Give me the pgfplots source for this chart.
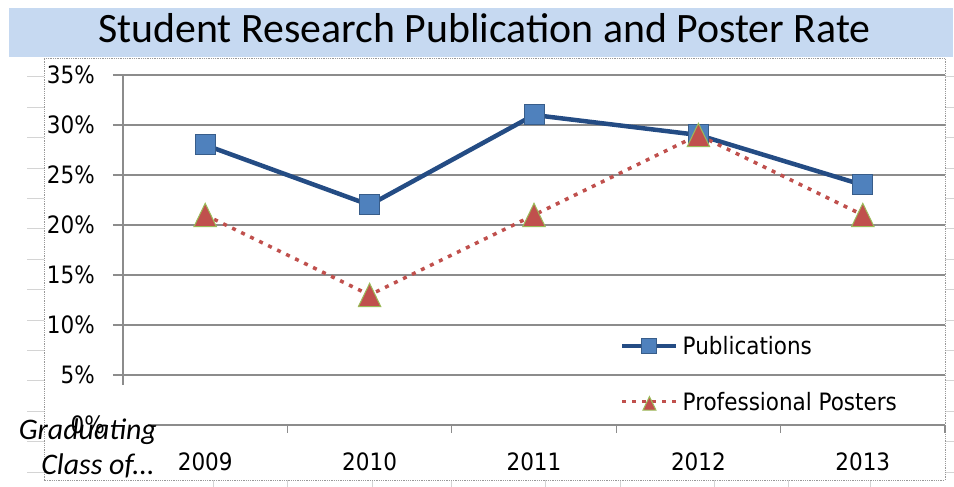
\documentclass[border=0pt]{standalone}
\usepackage{pgfplots}
\pgfplotsset{compat=1.18}
\usepackage{fontspec}
\setmainfont{DejaVu Sans Condensed}
\newfontfamily\titlefont{Carlito}
\definecolor{publine}{HTML}{244C84}
\definecolor{pubfill}{HTML}{4F81BD}
\definecolor{pubedge}{HTML}{385D8A}
\definecolor{posred}{HTML}{C0504D}
\definecolor{posedge}{HTML}{9BBB59}
\definecolor{titlebg}{HTML}{C6D9F1}
\definecolor{gridc}{HTML}{8C8C8C}
\definecolor{cellc}{HTML}{D4D4D4}
\begin{document}
\begin{tikzpicture}[x=1bp,y=1bp]
\useasboundingbox (0,0) rectangle (954,487);
% spreadsheet cell borders outside the chart
\foreach \k in {0,...,13} {\draw[cellc, line width=1bp] (27,{487-(77+30.4*\k)}) -- (44,{487-(77+30.4*\k)});}
\foreach \k in {0,...,13} {\draw[cellc, line width=1bp] (945,{487-(77+30.4*\k)}) -- (954,{487-(77+30.4*\k)});}
\foreach \x in {213,287,372,451,545,620,714,788,870} {\draw[cellc, line width=1bp] (\x,0) -- (\x,7);}
% title band
\fill[titlebg] (9,430) rectangle (953,479);
\node[anchor=base, inner sep=0pt, font=\titlefont\fontsize{42}{44}\selectfont] at (484.5,444) {Student Research Publication and Poster Rate};
% chart frame
\draw[gray!80, densely dotted, line width=0.8bp] (44,7) rectangle (945,429);
\begin{axis}[
  at={(123bp,62bp)}, anchor=south west,
  scale only axis, width=822bp, height=350bp,
  xmin=-0.5, xmax=4.5, ymin=0, ymax=35,
  axis line style={draw=none},
  xtick={0,1,2,3,4}, xticklabels={2009,2010,2011,2012,2013},
  minor xtick={0.5,1.5,2.5,3.5,4.5},
  x tick style={draw=none},
  xtick pos=bottom, ytick pos=left,
  tick align=outside,
  minor x tick style={draw=gridc, line width=1.3bp},
  minor tick length=8bp,
  ytick={5,10,...,35},
  extra y ticks={0}, extra y tick style={grid=none, major tick length=0pt},
  y tick style={draw=gridc, line width=1.3bp},
  major tick length=10bp,
  ymajorgrids, grid style={draw=gridc, line width=1.3bp},
  /pgf/number format/assume math mode=true,
  yticklabel={\pgfmathprintnumber{\tick}\%},
  tick label style={font=\fontsize{24}{26}\selectfont},
  yticklabel style={anchor=east, inner sep=0pt, xshift=-18bp},
  xticklabel style={anchor=base, inner sep=0pt, yshift=-36bp},
  clip=false,
  legend style={draw=none, fill=none, at={(rel axis cs:0.601,0.26)}, anchor=north west,
    font=\fontsize{24}{26}\selectfont, row sep=36bp, column sep=4bp,
    nodes={inner sep=0pt}},
  legend cell align=left,
  legend image code/.code={\draw[#1, mark size=7.5bp, mark repeat=2, mark phase=2] plot coordinates {(0bp,0bp)(27bp,0bp)(54bp,0bp)};},
]
\draw[gridc, line width=1.3bp] (axis cs:-0.5,4) -- (axis cs:-0.5,35);
\draw[gridc, line width=1.3bp] (axis cs:-0.348,0) -- (axis cs:4.5,0);
\addplot[publine, line width=4.5bp, mark=square*, mark size=10bp,
  mark options={fill=pubfill, draw=pubedge, line width=1bp, solid}]
  coordinates {(0,28) (1,22) (2,31) (3,29) (4,24)};
\addlegendentry{Publications}
\addplot[posred, line width=3.5bp, dash pattern=on 4bp off 6bp, mark=triangle*, mark size=13bp,
  mark options={fill=posred, draw=posedge, line width=1bp, solid, yshift=-3.9bp, yscale=1.2}]
  coordinates {(0,21) (1,13) (2,21) (3,29) (4,21)};
\addlegendentry{Professional Posters}
\end{axis}
\node[anchor=base east, inner sep=0pt, font=\titlefont\itshape\fontsize{30}{30}\selectfont] at (157,47) {Graduating};
\node[anchor=base east, inner sep=0pt, font=\titlefont\itshape\fontsize{30}{30}\selectfont] at (155,12) {Class of...};
\end{tikzpicture}
\end{document}
